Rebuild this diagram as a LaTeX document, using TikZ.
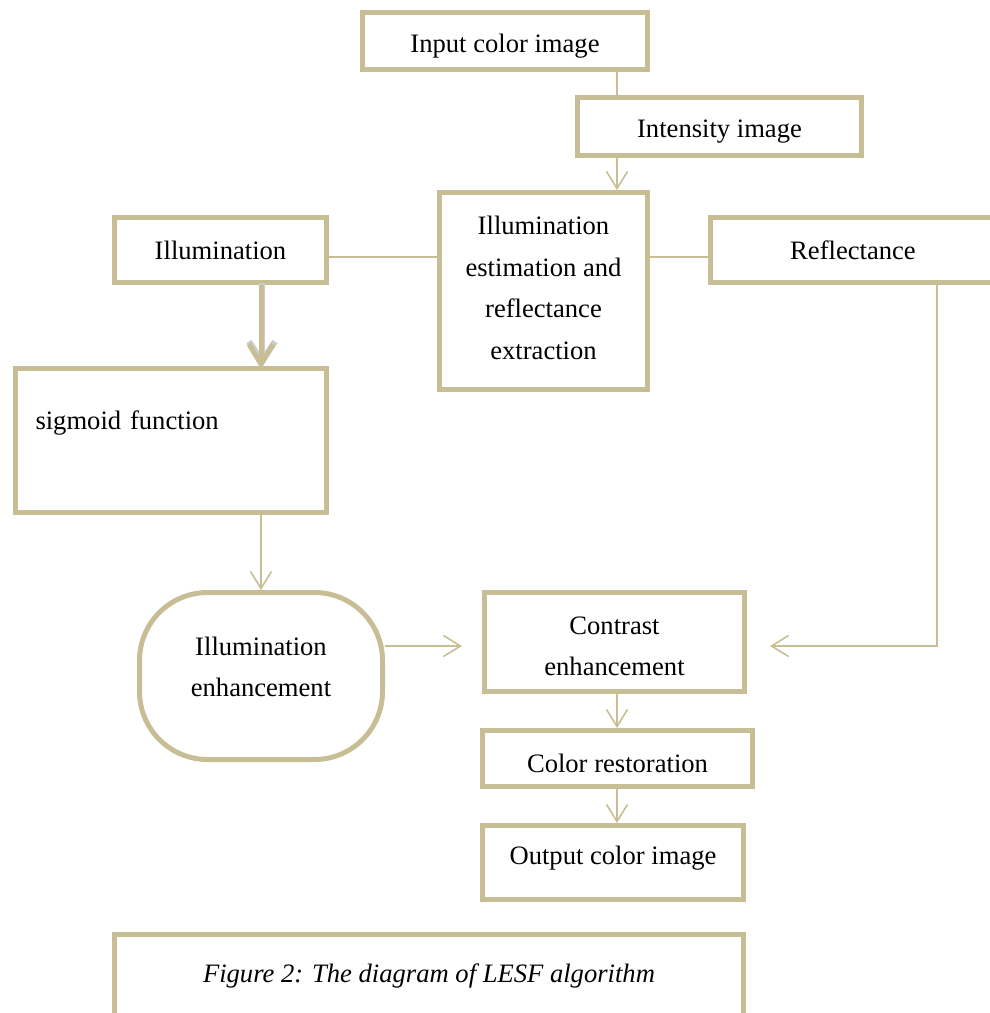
\documentclass[tikz,border=0pt]{standalone}
\usepackage{fontspec}
\setmainfont{Liberation Serif}
\usepackage{tikz}
\usetikzlibrary{arrows.meta}
\definecolor{khaki}{RGB}{200,190,150}

\begin{document}
\begin{tikzpicture}[x=1pt,y=-1pt,
	box/.style={draw=khaki,line width=5pt,fill=white,align=center,inner sep=0pt,
		font=\fontsize{26.6}{41.5}\selectfont},
	link/.style={draw=khaki,line width=1.6pt},
	tip/.style={-{Straight Barb[length=17pt,width=21pt,line width=1.6pt]}}]
	\useasboundingbox (0,0) rectangle (989,1013);
	\coordinate (spine) at (617,0);
	\coordinate (rside) at (937,0);
	\node[box,minimum width=285,minimum height=57,text height=28pt] (input) at (505,41) {Input color image};
	\node[box,minimum width=284,minimum height=58,text height=28pt] (intens) at (719.5,126.5) {Intensity image};
	\node[box,minimum width=208,minimum height=197,text depth=6pt] (est) at (543.5,291) {Illumination\\estimation and\\reflectance\\extraction};
	\node[box,minimum width=212,minimum height=65] (illum) at (220.5,250) {Illumination};
	\node[box,minimum width=285,minimum height=65] (reflect) at (853,250) {Reflectance};
	\node[box,minimum height=144,text width=271,inner xsep=20pt,align=left] (sigmoid) at (171,440.5) {sigmoid function\\\mbox{}};
	\node[box,minimum width=243,minimum height=167,rounded corners=68pt,text depth=18pt] (enh) at (261,676) {Illumination\\enhancement};
	\node[box,minimum width=260,minimum height=99,text height=68pt] (contrast) at (614.5,642) {Contrast\\enhancement};
	\node[box,minimum width=270,minimum height=56,text height=28pt] (color) at (617.5,758.5) {Color restoration};
	\node[box,minimum width=261,minimum height=74,text depth=15pt] (output) at (613,862.5) {Output color image};
	\node[box,minimum width=629,minimum height=84] (caption) at (429,976) {\itshape Figure 2: The diagram of LESF algorithm};
	% connectors
	\draw[link] (input.south -| spine) -- (intens.north -| spine);
	\foreach \a/\b in {intens/est,contrast/color,color/output}{
		\draw[link,tip] (\a.south -| spine) -- (\b.north -| spine);}
	\draw[link] ([yshift=-7pt]illum.east) -- ([yshift=-7pt]est.west |- illum.east);
	\draw[link] ([yshift=-7pt]est.east |- reflect.west) -- ([yshift=-7pt]reflect.west);
	\draw[draw=black!20,line width=6pt,-{Straight Barb[length=20pt,width=26pt,line width=6pt]}] ([xshift=1pt,yshift=2pt]illum.south -| enh.north) -- ([xshift=1pt,yshift=-1pt]sigmoid.north -| enh.north);
	\draw[draw=khaki,line width=5pt,-{Straight Barb[length=20pt,width=24pt,line width=5pt]}] (illum.south -| enh.north) -- ([yshift=-3pt]sigmoid.north -| enh.north);
	\draw[link,tip] (sigmoid.south -| enh.north) -- (enh.north);
	\draw[link,tip] ([yshift=-4pt]enh.east |- contrast) -- ([xshift=-20pt,yshift=-4pt]contrast.west);
	\draw[link,tip] (reflect.south -| rside) |- ([xshift=23pt,yshift=-4pt]contrast.east);
\end{tikzpicture}
\end{document}
